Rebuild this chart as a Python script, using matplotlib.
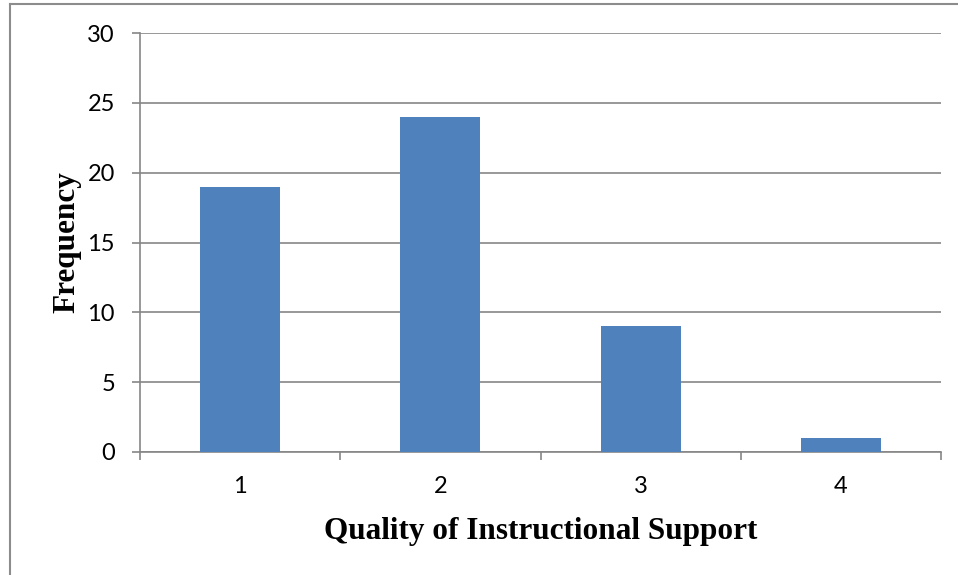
import matplotlib.pyplot as plt
from matplotlib.lines import Line2D

categories = ['1', '2', '3', '4']
frequency = [19, 24, 9, 1]
y_ticks = [0, 5, 10, 15, 20, 25, 30]

fig = plt.figure(figsize=(9.58, 5.75), dpi=100)
ax = fig.add_axes([140 / 958, 1 - 452 / 575, 801 / 958, 419 / 575])

x = list(range(1, len(categories) + 1))
ax.bar(x, frequency, width=0.4, color='#4F81BD', zorder=3)

ax.set_xlim(0.5, 4.5)
ax.set_ylim(0, 30)
ax.set_yticks(y_ticks)
ax.set_xticks(x)
ax.set_xticklabels(categories)
ax.set_xticks([0.5, 1.5, 2.5, 3.5, 4.5], minor=True)

grid_col = '#868686'
ax.yaxis.grid(True, color=grid_col, linewidth=1.2, zorder=0)
for side in ['top', 'right']:
    ax.spines[side].set_visible(False)
for side in ['left', 'bottom']:
    ax.spines[side].set_color(grid_col)
    ax.spines[side].set_linewidth(1.2)

ax.tick_params(axis='y', length=6, width=1.2, color=grid_col, pad=12,
               labelsize=17)
ax.tick_params(axis='x', which='major', length=0, pad=17, labelsize=17)
ax.tick_params(axis='x', which='minor', length=6, width=1.2, color=grid_col)
for lab in ax.get_xticklabels() + ax.get_yticklabels():
    lab.set_fontfamily(['Lato', 'DejaVu Sans'])

ax.set_xlabel('Quality of Instructional Support', fontsize=22.5,
              fontweight='bold', family='Liberation Serif', labelpad=15)
ax.set_ylabel('Frequency', fontsize=22.5, fontweight='bold',
              family='Liberation Serif', labelpad=4)

# outer frame (left and top edges only visible)
fig.add_artist(Line2D([10 / 958, 10 / 958], [0, 1 - 4 / 575],
                      color='#8c8c8c', linewidth=1.5))
fig.add_artist(Line2D([10 / 958, 1], [1 - 4 / 575, 1 - 4 / 575],
                      color='#8c8c8c', linewidth=1.5))

fig.savefig('out.png', dpi=100)
